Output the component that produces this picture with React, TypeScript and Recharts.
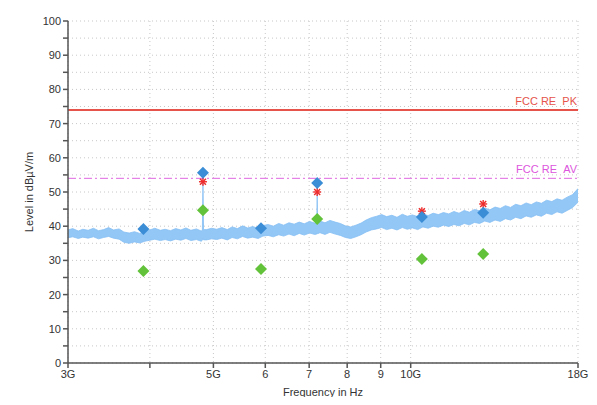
import {
  ComposedChart,
  Area,
  Scatter,
  XAxis,
  YAxis,
  CartesianGrid,
  ReferenceLine,
} from 'recharts'

// trace frequencies in GHz (extra points at 4.82 / 7.2 GHz carry the spikes)
const FREQS = [
  3.0, 3.05, 3.11, 3.16, 3.22, 3.28, 3.34, 3.4, 3.46, 3.52,
  3.59, 3.65, 3.72, 3.79, 3.86, 3.93, 4.0, 4.07, 4.15, 4.22,
  4.3, 4.38, 4.46, 4.54, 4.62, 4.71, 4.79, 4.81, 4.82, 4.83, 4.88, 4.97, 5.06,
  5.15, 5.25, 5.34, 5.44, 5.54, 5.64, 5.74, 5.85, 5.95, 6.06,
  6.17, 6.29, 6.4, 6.52, 6.64, 6.76, 6.88, 7.01, 7.14, 7.19, 7.2, 7.21, 7.27,
  7.4, 7.53, 7.67, 7.81, 7.95, 8.1, 8.25, 8.4, 8.55, 8.71,
  8.87, 9.03, 9.19, 9.36, 9.53, 9.71, 9.88, 10.06, 10.25, 10.44,
  10.63, 10.82, 11.02, 11.22, 11.43, 11.64, 11.85, 12.07, 12.29, 12.51,
  12.74, 12.97, 13.21, 13.45, 13.7, 13.95, 14.2, 14.46, 14.73, 15.0,
  15.27, 15.55, 15.83, 16.12, 16.42, 16.72, 17.02, 17.33, 17.65, 18.0,
]

// upper / lower envelope of the noisy preview trace (dBµV/m)
const TRACE_HI = [
  38.9, 39.3, 38.6, 39.1, 38.8, 39.4, 38.7, 39.0, 39.6, 38.9,
  39.2, 38.3, 38.0, 38.4, 37.9, 38.6, 38.9, 39.4, 38.8, 39.1,
  38.7, 39.3, 38.9, 39.5, 38.8, 39.2, 38.6, 38.9, 52.8, 39.0, 39.0, 39.4, 39.1,
  39.6, 39.0, 39.8, 39.3, 40.1, 39.5, 39.9, 39.4, 40.2, 40.5,
  40.0, 40.8, 40.3, 41.0, 40.6, 41.2, 40.7, 41.4, 40.9, 41.0, 49.8, 41.1, 41.5,
  41.0, 41.7, 41.2, 40.8, 40.1, 39.8, 40.3, 40.9, 41.8, 42.5,
  42.9, 43.4, 42.8, 43.2, 42.6, 43.5, 42.9, 43.3, 42.8, 43.6,
  43.1, 43.8, 43.4, 44.0, 43.6, 44.3, 43.8, 44.6, 44.1, 44.9,
  44.5, 45.3, 44.8, 45.6, 45.2, 46.0, 45.5, 46.4, 46.0, 46.8,
  46.3, 47.1, 46.7, 47.6, 47.2, 48.0, 47.6, 48.5, 49.2, 51.0,
]
const TRACE_LO = [
  36.6, 36.9, 36.4, 36.8, 36.5, 36.9, 36.3, 36.7, 37.0, 36.5,
  36.2, 35.3, 35.0, 35.4, 35.1, 35.6, 35.9, 36.2, 35.8, 36.1,
  35.7, 36.2, 35.9, 36.4, 35.8, 36.1, 35.6, 35.9, 36.5, 36.0, 36.0, 36.3, 36.1,
  36.5, 36.0, 36.7, 36.3, 37.0, 36.5, 36.8, 36.4, 37.1, 37.3,
  36.9, 37.5, 37.1, 37.7, 37.2, 37.9, 37.4, 38.0, 37.6, 37.7, 38.0, 37.8, 38.1,
  37.6, 38.2, 37.7, 37.3, 36.7, 36.4, 36.9, 37.5, 38.3, 38.9,
  39.2, 39.6, 39.0, 39.4, 38.9, 39.6, 39.1, 39.5, 39.0, 39.8,
  39.4, 40.0, 39.7, 40.3, 39.9, 40.5, 40.1, 40.8, 40.4, 41.1,
  40.8, 41.5, 41.1, 41.8, 41.4, 42.2, 41.8, 42.6, 42.2, 43.0,
  42.6, 43.3, 42.9, 43.8, 43.4, 44.2, 43.8, 44.6, 45.4, 47.0,
]

// final measurement points
const FINAL_FREQ = [3.91, 4.82, 5.91, 7.2, 10.4, 12.9]
const FINAL_PK = [39.2, 55.6, 39.4, 52.6, 42.7, 43.9]
const FINAL_AV = [26.9, 44.7, 27.5, 42.1, 30.4, 31.9]

const STAR_FREQ = [4.82, 7.2, 10.4, 12.9]
const STAR_VAL = [53.0, 50.0, 44.4, 46.5]

const LIMIT_PK = 74
const LIMIT_AV = 54

const X_TICKS = [3, 4, 5, 6, 7, 8, 9, 10, 18]
const X_LABELS: Record<number, string> = { 3: '3G', 5: '5G', 6: '6', 7: '7', 8: '8', 9: '9', 10: '10G', 18: '18G' }
const Y_TICKS = [0, 5, 10, 15, 20, 25, 30, 35, 40, 45, 50, 55, 60, 65, 70, 75, 80, 85, 90, 95, 100]

const traceData = FREQS.map((f, i) => ({ f, band: [TRACE_LO[i], TRACE_HI[i]] }))
const pkData = FINAL_FREQ.map((f, i) => ({ f, v: FINAL_PK[i] }))
const avData = FINAL_FREQ.map((f, i) => ({ f, v: FINAL_AV[i] }))
const starData = STAR_FREQ.map((f, i) => ({ f, v: STAR_VAL[i] }))

const FONT = 'Arial, "Liberation Sans", sans-serif'
const AXIS = '#555'

function diamond(color: string) {
  return (props: any) => {
    const { cx, cy } = props
    const r = 6
    return (
      <polygon
        points={`${cx},${cy - r} ${cx + r},${cy} ${cx},${cy + r} ${cx - r},${cy}`}
        fill={color}
      />
    )
  }
}

function asterisk(props: any) {
  const { cx, cy } = props
  const r = 4
  return (
    <g stroke="#ee2a2a" strokeWidth={1.4}>
      <line x1={cx - r} y1={cy} x2={cx + r} y2={cy} />
      <line x1={cx} y1={cy - r} x2={cx} y2={cy + r} />
      <line x1={cx - 3} y1={cy - 3} x2={cx + 3} y2={cy + 3} />
      <line x1={cx - 3} y1={cy + 3} x2={cx + 3} y2={cy - 3} />
    </g>
  )
}

function limitLabel(text: string, color: string) {
  return (props: any) => {
    const vb = props.viewBox
    return (
      <text
        x={vb.x + vb.width - 1}
        y={vb.y - 5}
        textAnchor="end"
        fill={color}
        fontSize={11}
        fontFamily={FONT}
      >
        {text}
      </text>
    )
  }
}

export default function App() {
  return (
    <div style={{ position: 'relative', width: 597, height: 405, margin: -8, background: '#fff' }}>
      <div
        style={{
          position: 'absolute',
          left: 4,
          top: 4,
          width: 591,
          height: 397,
          border: '1px solid #bdbdbd',
        }}
      />
      <ComposedChart
        width={597}
        height={405}
        data={traceData}
        margin={{ top: 21, right: 19, bottom: 4, left: 28 }}
        style={{ position: 'absolute', left: 0, top: 0 }}
      >
        <CartesianGrid stroke="#c8c8c8" strokeDasharray="1 3" />
        <XAxis
          dataKey="f"
          type="number"
          scale="log"
          domain={[3, 18]}
          ticks={X_TICKS}
          allowDataOverflow
          height={38}
          tickSize={5}
          tickFormatter={(v: number) => X_LABELS[v] ?? ''}
          tick={{ fill: '#333', fontSize: 11, fontFamily: FONT }}
          stroke={AXIS}
          strokeWidth={1.5}
          label={{ value: 'Frequency in Hz', position: 'insideBottom', offset: 5, fill: '#333', fontSize: 11, fontFamily: FONT }}
        />
        <YAxis
          type="number"
          domain={[0, 100]}
          ticks={Y_TICKS}
          width={40}
          tickSize={5}
          tickFormatter={(v: number) => (v % 10 === 0 ? String(v) : '')}
          tick={{ fill: '#333', fontSize: 11, fontFamily: FONT }}
          stroke={AXIS}
          strokeWidth={1.5}
          label={{
            value: 'Level in dBµV/m',
            angle: -90,
            position: 'insideLeft',
            offset: 1,
            style: { textAnchor: 'middle' },
            fill: '#333',
            fontSize: 11,
            fontFamily: FONT,
          }}
        />
        <Area
          dataKey="band"
          type="linear"
          stroke="#86bff4"
          strokeWidth={0.8}
          fill="#92c7f6"
          fillOpacity={1}
          isAnimationActive={false}
          dot={false}
          activeDot={false}
        />
        <ReferenceLine
          y={LIMIT_PK}
          stroke="#e5534a"
          strokeWidth={2}
          label={limitLabel('FCC RE\u00a0\u00a0PK', '#e5534a')}
        />
        <ReferenceLine
          y={LIMIT_AV}
          stroke="#e066e0"
          strokeWidth={1}
          strokeDasharray="8 3 2 3"
          label={limitLabel('FCC RE\u00a0\u00a0AV', '#dd55dd')}
        />
        <Scatter data={avData} dataKey="v" shape={diamond('#62c23a')} isAnimationActive={false} />
        <Scatter data={starData} dataKey="v" shape={asterisk} isAnimationActive={false} />
        <Scatter data={pkData} dataKey="v" shape={diamond('#3b8dd6')} isAnimationActive={false} />
      </ComposedChart>
    </div>
  )
}
